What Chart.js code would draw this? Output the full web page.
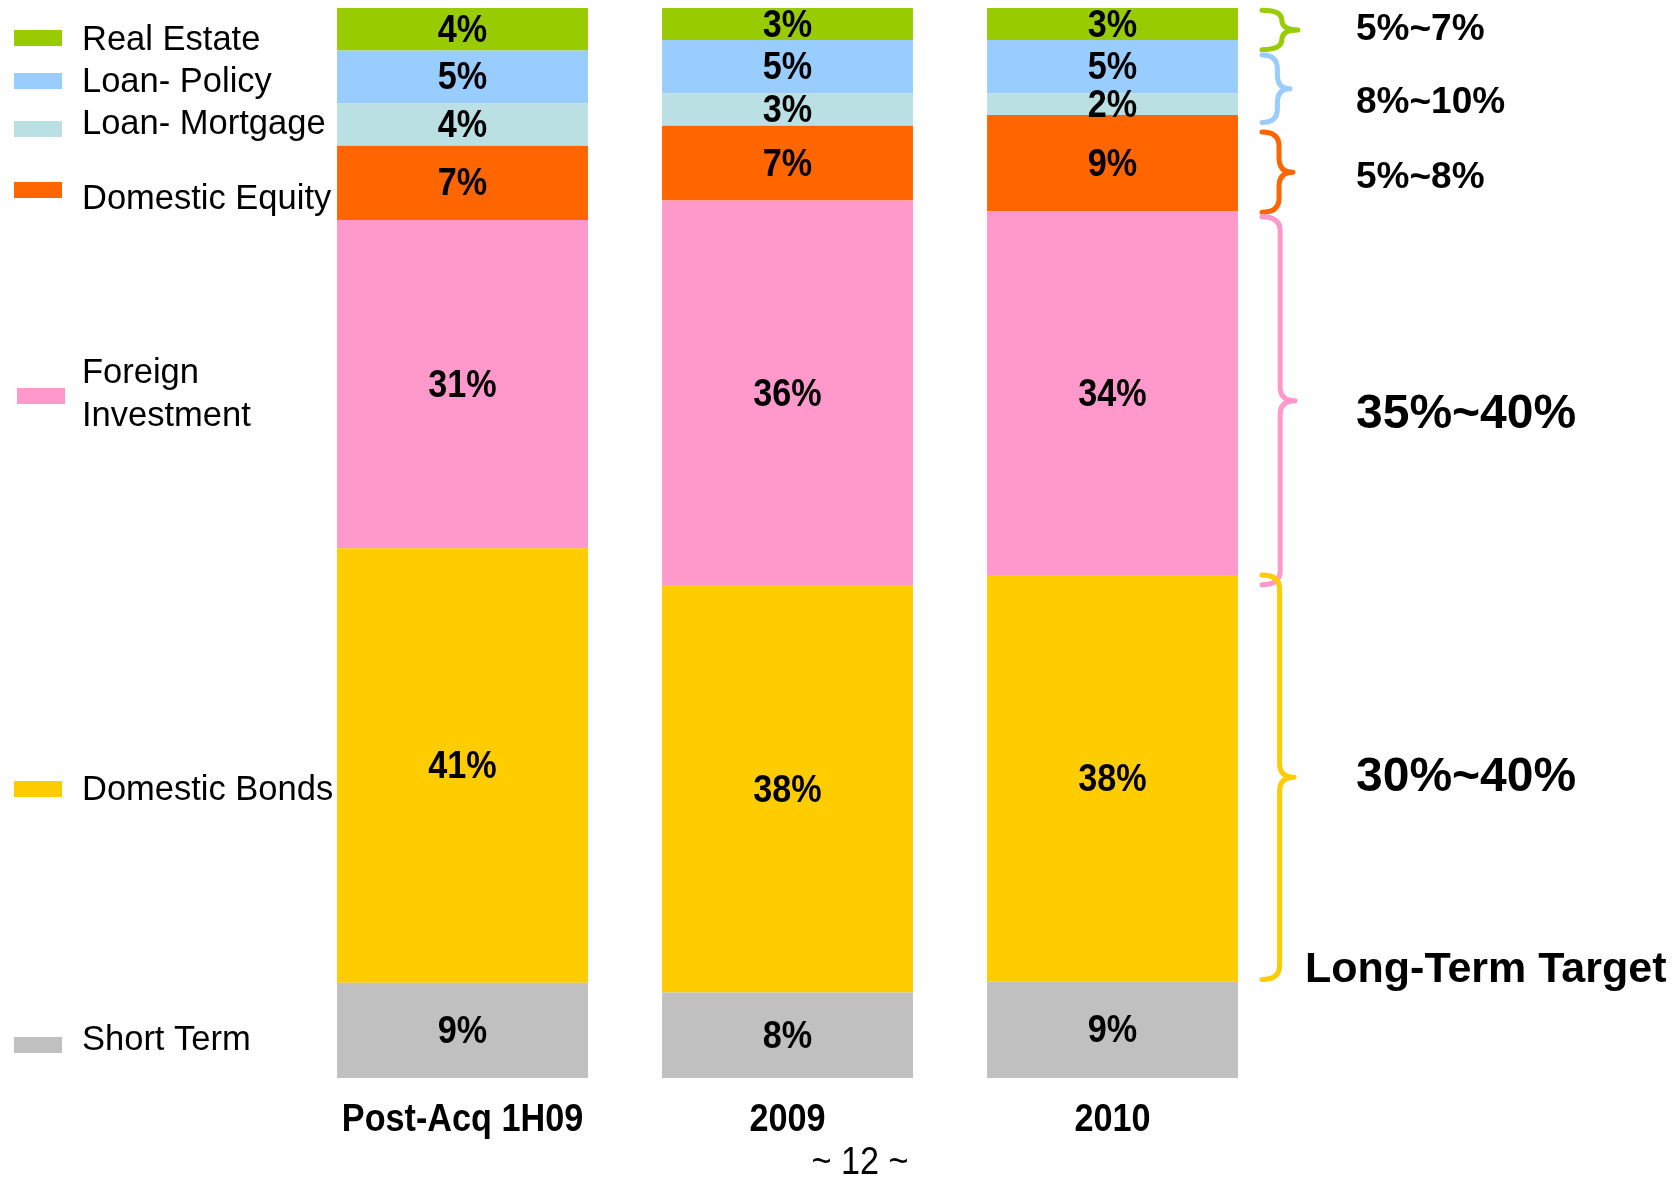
<!DOCTYPE html>
<html>
<head>
<meta charset="utf-8">
<title>Asset Allocation</title>
<script src="https://cdn.jsdelivr.net/npm/chart.js@4.4.1/dist/chart.umd.min.js"></script>
<style>
  html, body { margin: 0; padding: 0; background: #ffffff; }
  #wrap { width: 1676px; height: 1177px; position: relative; }
</style>
</head>
<body>
<div id="wrap"><canvas id="alloc"></canvas></div>
<script>
// Columns of the allocation chart
const categories = ['Post-Acq 1H09', '2009', '2010'];

// Share of the portfolio (%) per asset class, one value per column
const realEstate        = [4, 3, 3];
const loanPolicy        = [5, 5, 5];
const loanMortgage      = [4, 3, 2];
const domesticEquity    = [7, 7, 9];
const foreignInvestment = [31, 36, 34];
const domesticBonds     = [41, 38, 38];
const shortTerm         = [9, 8, 9];

// Legend names (multi-line names given as arrays)
const seriesNames = ['Real Estate', 'Loan- Policy', 'Loan- Mortgage', 'Domestic Equity',
                     ['Foreign', 'Investment'], 'Domestic Bonds', 'Short Term'];

// Long-term target ranges shown to the right of the columns
const targetLabels = ['5%~7%', '8%~10%', '5%~8%', '35%~40%', '30%~40%'];
const targetCaption = 'Long-Term Target';
const pageNumber = '~ 12 ~';

// Styling, top segment first
const colors = ['#99CC00', '#99CCFF', '#BBE0E3', '#FF6600', '#FF99CC', '#FFCC00', '#C0C0C0'];
const seriesValues = [realEstate, loanPolicy, loanMortgage, domesticEquity, foreignInvestment, domesticBonds, shortTerm];

const FONT = '"Liberation Sans", Arial, Helvetica, sans-serif';

// Each column is scaled to its own total (a 100% stacked column), so every
// column gets its own hidden value axis.
const columnTotals = categories.map((_, c) => seriesValues.reduce((s, arr) => s + arr[c], 0));

const datasets = [];
for (let s = seriesValues.length - 1; s >= 0; s--) {          // bottom segment first
  categories.forEach((_, c) => {
    datasets.push({
      label: Array.isArray(seriesNames[s]) ? seriesNames[s].join(' ') : seriesNames[s],
      data: categories.map((__, k) => (k === c ? seriesValues[s][k] : null)),
      backgroundColor: colors[s],
      borderWidth: 0,
      yAxisID: 'y' + c,
      stack: 'allocation',
      barPercentage: 1,
      categoryPercentage: 0.772
    });
  });
}

const scales = {
  x: {
    stacked: true,
    grid: { display: false, drawTicks: false },
    border: { display: false },
    ticks: { display: false }
  }
};
categories.forEach((_, c) => {
  scales['y' + c] = { stacked: true, min: 0, max: columnTotals[c], display: false };
});

// Narrow text: the labels use a horizontally condensed face
function narrowText(ctx, text, x, y, font, squeeze) {
  ctx.save();
  ctx.font = font;
  ctx.translate(x, y);
  ctx.scale(squeeze, 1);
  ctx.fillText(text, 0, 0);
  ctx.restore();
}

// Value labels centred in each segment, category names under the columns
const segmentLabels = {
  id: 'segmentLabels',
  afterDatasetsDraw(chart) {
    const ctx = chart.ctx;
    ctx.save();
    ctx.fillStyle = '#000';
    ctx.textAlign = 'center';
    ctx.textBaseline = 'middle';
    const bold38 = 'bold 38px ' + FONT;
    chart.data.datasets.forEach((ds, i) => {
      const meta = chart.getDatasetMeta(i);
      ds.data.forEach((v, j) => {
        if (v === null) return;
        const el = meta.data[j];
        narrowText(ctx, v + '%', el.x, (el.y + el.base) / 2 + 2, bold38, 0.9);
      });
    });
    const x = chart.scales.x;
    categories.forEach((c, i) => {
      narrowText(ctx, c, x.getPixelForValue(i), chart.chartArea.bottom + 43, bold38, 0.9);
    });
    ctx.restore();
  }
};

// Legend at the left, aligned roughly with the segments of the first column
const sideLegend = {
  id: 'sideLegend',
  afterDraw(chart, args, opts) {
    const ctx = chart.ctx;
    ctx.save();
    ctx.font = '34.5px ' + FONT;
    ctx.fillStyle = '#000';
    ctx.textAlign = 'left';
    ctx.textBaseline = 'middle';
    opts.items.forEach((it, i) => {
      ctx.fillStyle = colors[i];
      ctx.fillRect(it.sx, it.sy - 8, 48, 16);
      ctx.fillStyle = '#000';
      const lines = Array.isArray(seriesNames[i]) ? seriesNames[i] : [seriesNames[i]];
      lines.forEach((ln, k) => ctx.fillText(ln, 82, it.ty + k * 43));
    });
    ctx.restore();
  }
};

// Curly braces and target ranges at the right of the last column
function brace(ctx, x, y0, y1, w) {
  const ym = (y0 + y1) / 2;
  const xm = x + w * 0.55;
  const r = Math.min(14, (y1 - y0) / 4);
  ctx.beginPath();
  ctx.moveTo(x, y0);
  ctx.quadraticCurveTo(xm, y0, xm, y0 + r);
  ctx.lineTo(xm, ym - r);
  ctx.quadraticCurveTo(xm, ym, x + w, ym);
  ctx.quadraticCurveTo(xm, ym, xm, ym + r);
  ctx.lineTo(xm, y1 - r);
  ctx.quadraticCurveTo(xm, y1, x, y1);
  ctx.stroke();
}

const targets = {
  id: 'targets',
  afterDraw(chart, args, opts) {
    const ctx = chart.ctx;
    const y = chart.scales['y' + (categories.length - 1)];
    ctx.save();
    ctx.lineWidth = 5;
    ctx.lineCap = 'round';
    ctx.lineJoin = 'round';
    opts.spans.forEach((sp, i) => {
      ctx.strokeStyle = colors[sp.color];
      const p0 = y.getPixelForValue(sp.from);
      const p1 = y.getPixelForValue(sp.to);
      brace(ctx, 1262, p0, p1, sp.w);
      ctx.fillStyle = '#000';
      ctx.font = 'bold ' + sp.size + 'px ' + FONT;
      ctx.textAlign = 'left';
      ctx.textBaseline = 'middle';
      ctx.fillText(targetLabels[i], 1356, (p0 + p1) / 2 + sp.dy);
    });
    ctx.font = 'bold 43px ' + FONT;
    ctx.fillText(targetCaption, 1305, 970);
    ctx.textAlign = 'center';
    narrowText(ctx, pageNumber, 860, 1164, '38px ' + FONT, 0.9);
    ctx.restore();
  }
};

new Chart(document.getElementById('alloc'), {
  type: 'bar',
  data: { labels: categories, datasets },
  options: {
    responsive: true,
    maintainAspectRatio: false,
    animation: false,
    devicePixelRatio: 1,
    layout: { padding: { left: 300, right: 401, top: 8, bottom: 99 } },
    scales,
    plugins: {
      legend: { display: false },
      tooltip: { enabled: false },
      sideLegend: {
        items: [
          { sx: 14, sy: 38, ty: 40 },
          { sx: 14, sy: 81, ty: 82 },
          { sx: 14, sy: 129, ty: 124 },
          { sx: 14, sy: 190, ty: 199 },
          { sx: 17, sy: 396, ty: 373 },
          { sx: 14, sy: 789, ty: 790 },
          { sx: 14, sy: 1045, ty: 1040 }
        ]
      },
      targets: {
        spans: [
          { from: 99.8, to: 96.1, color: 0, w: 36, size: 37, dy: 0 },
          { from: 95.6, to: 89.3, color: 1, w: 28, size: 37, dy: 14 },
          { from: 88.4, to: 80.9, color: 3, w: 31, size: 37, dy: 6 },
          { from: 80.5, to: 46.1, color: 4, w: 33, size: 48, dy: 14 },
          { from: 47.0, to: 9.2, color: 5, w: 32, size: 48, dy: 0 }
        ]
      }
    }
  },
  plugins: [segmentLabels, sideLegend, targets]
});
</script>
</body>
</html>
